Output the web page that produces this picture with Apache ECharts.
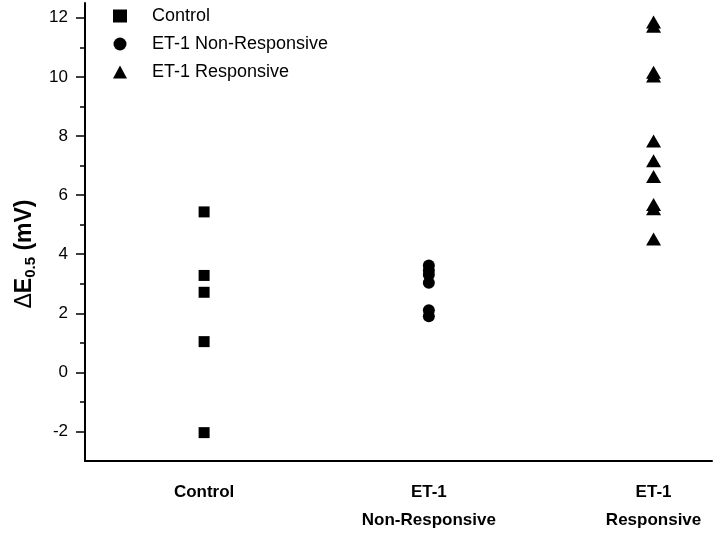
<!DOCTYPE html>
<html>
<head>
<meta charset="utf-8">
<script src="https://cdn.jsdelivr.net/npm/echarts@6/dist/echarts.min.js"></script>
<style>
html, body { margin: 0; padding: 0; background: #fff; }
#chart { width: 720px; height: 534px; }
</style>
</head>
<body>
<div id="chart"></div>
<script>
// group names and their x position
var groupNames = ['Control', 'ET-1 Non-Responsive', 'ET-1 Responsive'];
var groupLabels = ['Control', 'ET-1\nNon-Responsive', 'ET-1\nResponsive'];
var groupPos = [1, 2, 3];

// values (mV)
var controlVals = [5.43, 3.28, 2.71, 1.04, -2.04];
var nonRespVals = [3.62, 3.45, 3.30, 3.03, 2.10, 1.90];
var respVals = [11.86, 11.71, 10.16, 10.03, 7.83, 7.16, 6.63, 5.68, 5.54, 4.51];

var majorTicks = [-2, 0, 2, 4, 6, 8, 10, 12];
var minorTicks = [-1, 1, 3, 5, 7, 9, 11];

function toPoints(x, vals) {
    var out = [];
    for (var i = 0; i < vals.length; i++) {
        out.push([x, vals[i]]);
    }
    return out;
}

var chart = echarts.init(document.getElementById('chart'));

var fontFam = '"Liberation Sans", Arial, sans-serif';

chart.setOption({
    animation: false,
    textStyle: { fontFamily: fontFam },
    legend: {
        orient: 'vertical',
        left: 108,
        top: 2,
        itemWidth: 14,
        itemHeight: 13,
        itemGap: 10,
        textStyle: { fontSize: 18, color: '#000', fontFamily: fontFam, padding: [0, 0, 0, 20] },
        data: groupNames
    },
    grid: {
        left: 85,
        right: 8,
        top: 3,
        bottom: 71
    },
    xAxis: {
        type: 'value',
        min: 0.47,
        max: 3.26,
        splitLine: { show: false },
        axisLine: { onZero: false, lineStyle: { color: '#000', width: 2 } },
        axisTick: { show: false },
        axisLabel: {
            customValues: groupPos,
            formatter: function (v) { return groupLabels[Math.round(v) - 1]; },
            fontSize: 17,
            fontWeight: 'bold',
            color: '#000',
            lineHeight: 28,
            margin: 17
        }
    },
    yAxis: [
        {
            type: 'value',
            min: -3,
            max: 12.5,
            name: '{d|Δ}{a|E}{b|0.5}{a| (mV)}',
            nameLocation: 'middle',
            nameGap: 36,
            nameTextStyle: {
                padding: [0, 44, 0, 0],
                rich: {
                    d: { fontSize: 23, color: '#000', fontFamily: fontFam, lineHeight: 28 },
                    a: { fontSize: 23, fontWeight: 'bold', color: '#000', fontFamily: fontFam, lineHeight: 28 },
                    b: { fontSize: 15, fontWeight: 'bold', color: '#000', fontFamily: fontFam, verticalAlign: 'bottom', lineHeight: 12 }
                }
            },
            splitLine: { show: false },
            axisLine: { lineStyle: { color: '#000', width: 2 } },
            axisTick: { customValues: majorTicks, length: 9, lineStyle: { color: '#000', width: 1.5 } },
            axisLabel: { customValues: majorTicks, fontSize: 17, color: '#000', margin: 17 }
        },
        {
            type: 'value',
            min: -3,
            max: 12.5,
            position: 'left',
            splitLine: { show: false },
            axisLine: { show: false },
            axisTick: { customValues: minorTicks, length: 5, lineStyle: { color: '#000', width: 1.5 } },
            axisLabel: { show: false }
        }
    ],
    series: [
        {
            name: groupNames[0],
            type: 'scatter',
            symbol: 'rect',
            symbolSize: 11,
            itemStyle: { color: '#000', opacity: 1 },
            data: toPoints(groupPos[0], controlVals)
        },
        {
            name: groupNames[1],
            type: 'scatter',
            symbol: 'circle',
            symbolSize: 12,
            itemStyle: { color: '#000', opacity: 1 },
            data: toPoints(groupPos[1], nonRespVals)
        },
        {
            name: groupNames[2],
            type: 'scatter',
            symbol: 'triangle',
            symbolSize: [15, 13],
            itemStyle: { color: '#000', opacity: 1 },
            data: toPoints(groupPos[2], respVals)
        }
    ]
});
</script>
</body>
</html>
